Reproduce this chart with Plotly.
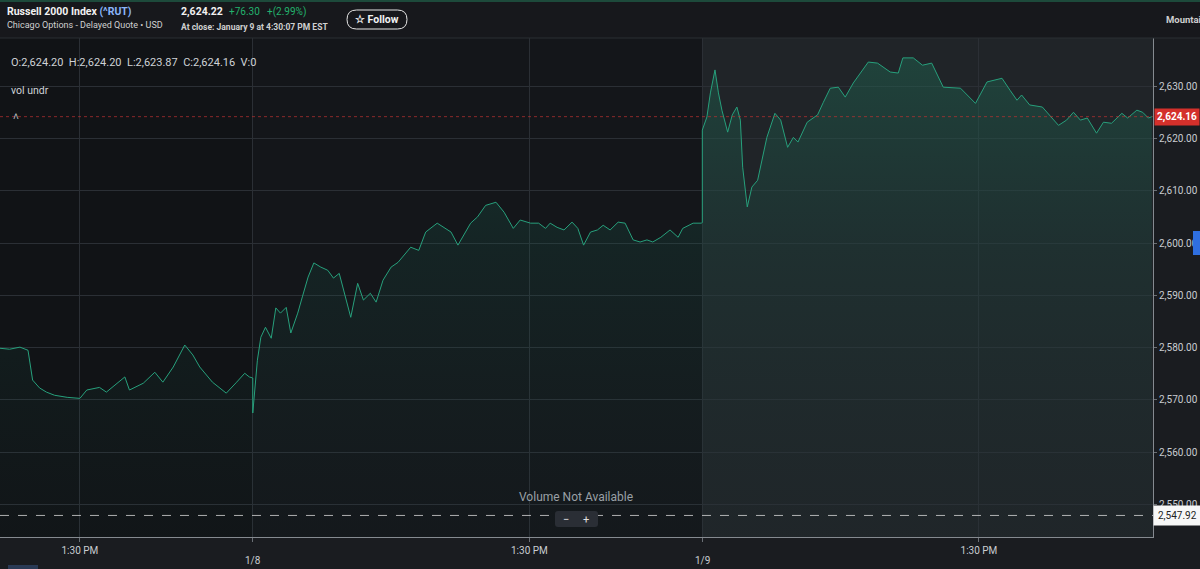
import plotly.graph_objects as go

# ---------------- data ----------------
day_names = ["1/7", "1/8", "1/9"]

d1_time = ["12:20","12:29","12:38","12:45","12:49","12:55","13:01","13:08","13:19","13:30",
           "13:36","13:47","13:53","14:05","14:09","14:13","14:25","14:35","14:42","14:51",
           "15:01","15:08","15:14","15:25","15:37","15:46","15:53","15:57","16:00"]
d1_vals = [2579.9,2579.7,2580.1,2579.5,2573.8,2572.3,2571.5,2570.9,2570.5,2570.3,
           2571.9,2572.4,2571.5,2573.8,2574.4,2571.9,2573.2,2575.3,2573.4,2576.3,
           2580.5,2578.6,2576.3,2573.4,2571.3,2573.4,2575.1,2574.4,2574.2]

d2_time = ["09:30","09:34","09:37","09:41","09:46","09:50","09:54","09:59","10:03","10:09",
           "10:13","10:18","10:23","10:29","10:35","10:40","10:45","10:49","10:55","11:01",
           "11:06","11:12","11:17","11:23","11:30","11:36","11:41","11:47","11:54","12:00",
           "12:10","12:17","12:22","12:28","12:32","12:39","12:45","12:52","13:01","13:08",
           "13:16","13:22","13:31","13:38","13:44","13:48","13:54","14:00","14:07","14:12",
           "14:17","14:23","14:29","14:34","14:40","14:47","14:53","15:00","15:06","15:12",
           "15:17","15:24","15:32","15:39","15:43","15:52","15:59","16:00"]
d2_vals = [2567.5,2577.6,2582.0,2583.9,2581.8,2587.6,2586.6,2587.7,2582.8,2586.6,
           2589.7,2593.5,2596.2,2595.4,2594.8,2593.3,2594.2,2591.0,2585.8,2592.3,
           2589.1,2590.4,2588.7,2592.9,2595.4,2596.3,2597.7,2599.2,2598.6,2602.1,
           2603.8,2602.8,2602.1,2599.6,2601.1,2603.8,2605.0,2607.2,2607.8,2605.9,
           2602.8,2604.4,2603.8,2603.8,2602.8,2603.8,2603.0,2602.5,2604.0,2602.8,
           2599.6,2602.1,2602.5,2603.4,2602.5,2604.0,2603.8,2600.6,2600.2,2600.6,
           2600.2,2601.1,2602.5,2601.1,2602.8,2603.8,2603.8,2603.9]

d3_time = ["09:30","09:34","09:37","09:41","09:44","09:47","09:52","09:56","10:00","10:03",
           "10:05","10:09","10:13","10:18","10:26","10:33","10:38","10:44","10:49","10:53",
           "11:01","11:10","11:15","11:21","11:28","11:34","11:41","11:47","11:54","12:02",
           "12:13","12:20","12:24","12:33","12:41","12:49","12:59","13:14","13:27","13:37",
           "13:50","13:57","14:03","14:07","14:14","14:25","14:29","14:39","14:46","14:52",
           "14:58","15:04","15:12","15:18","15:25","15:34","15:39","15:47","15:52","15:57",
           "16:00"]
d3_vals = [2621.6,2624.1,2628.7,2633.1,2628.7,2625.4,2621.2,2624.5,2626.0,2623.5,
           2614.5,2606.9,2610.7,2612.0,2620.2,2624.8,2623.5,2618.3,2620.2,2619.3,
           2623.1,2624.5,2626.9,2629.6,2629.8,2627.9,2630.6,2632.5,2634.6,2634.4,
           2632.7,2632.5,2635.4,2635.4,2634.0,2634.4,2629.8,2629.6,2626.7,2630.8,
           2631.5,2629.2,2627.3,2628.3,2626.4,2626.0,2625.0,2622.5,2623.5,2625.0,
           2623.5,2623.9,2621.0,2623.1,2622.9,2624.8,2623.9,2625.4,2625.0,2623.9,
           2624.16]

x_tick_day = [0, 1, 1, 2, 2]
x_tick_time = ["13:30", "09:30", "13:30", "09:30", "13:30"]
x_tick_text = ["1:30 PM", "", "1:30 PM", "", "1:30 PM"]
x_date_labels = ["", "1/8", "", "1/9", ""]

y_ticks = [2550, 2560, 2570, 2580, 2590, 2600, 2610, 2620, 2630]
y_tick_text = [f"{v:,.2f}" for v in y_ticks]

ohlcv = {"O": 2624.20, "H": 2624.20, "L": 2623.87, "C": 2624.16, "V": 0}
last_price = 2624.22
change = 76.30
change_pct = 2.99
prev_close = 2547.92
last_bar = 2624.16

# ---------------- helpers ----------------
SESSION = 390  # minutes per session


def tmin(day, hhmm):
    h, m = map(int, hhmm.split(":"))
    return day * SESSION + (h * 60 + m - 570)


xs, ys = [], []
for d, (tl, vl) in enumerate([(d1_time, d1_vals), (d2_time, d2_vals), (d3_time, d3_vals)]):
    for t, v in zip(tl, vl):
        xs.append(tmin(d, t))
        ys.append(v)

x_tick_vals = [tmin(d, t) for d, t in zip(x_tick_day, x_tick_time)]

X_RANGE = [170.7, 1171.0]
Y_RANGE = [2543.8, 2639.2]

# pixel -> paper (plot area: x 0..1153, y 38..537)
PW, PT, PB = 1153.0, 38.0, 537.0


def px(x):
    return x / PW


def py(y):
    return (PB - y) / (PB - PT)


FONT = "Roboto, 'Liberation Sans', sans-serif"
LINE_COL = "#27a07c"

fig = go.Figure()

fig.add_trace(go.Scatter(
    x=xs, y=ys, mode="lines",
    line=dict(color=LINE_COL, width=1),
    fill="tozeroy",
    fillgradient=dict(type="vertical", start=Y_RANGE[0], stop=2636,
                      colorscale=[[0, "rgba(25,70,65,0.05)"],
                                  [0.6, "rgba(25,110,90,0.16)"],
                                  [1, "rgba(30,140,105,0.30)"]]),
    hoverinfo="skip", showlegend=False,
))

shapes = []
# darker first session
shapes.append(dict(type="rect", xref="x", yref="paper", x0=X_RANGE[0], x1=x_tick_vals[1],
                   y0=0, y1=1, fillcolor="rgba(0,0,0,0.12)", line_width=0, layer="below"))
# lighter region for last session
shapes.append(dict(type="rect", xref="x", yref="paper", x0=x_tick_vals[3], x1=X_RANGE[1],
                   y0=0, y1=1, fillcolor="rgba(150,175,185,0.09)", line_width=0, layer="below"))
# last-bar red dotted line
shapes.append(dict(type="line", xref="paper", yref="y", x0=0, x1=1, y0=last_bar, y1=last_bar,
                   line=dict(color="rgba(190,50,50,0.7)", width=1, dash="dot")))
# previous close dashed line
shapes.append(dict(type="line", xref="paper", yref="y", x0=0, x1=1, y0=prev_close, y1=prev_close,
                   line=dict(color="rgba(225,225,225,0.75)", width=1, dash="dash")))
# header background
shapes.append(dict(type="rect", xref="paper", yref="paper", x0=px(0), x1=px(1200),
                   y0=py(38), y1=py(0), fillcolor="#17181c", line_width=0, layer="below"))
shapes.append(dict(type="rect", xref="paper", yref="paper", x0=px(0), x1=px(1200),
                   y0=py(2), y1=py(0), fillcolor="#1d4a3b", line_width=0))
shapes.append(dict(type="line", xref="paper", yref="paper", x0=px(0), x1=px(1200),
                   y0=py(38), y1=py(38), line=dict(color="#2b2e33", width=1)))


def pill(x0, x1, y0, y1, r):
    X0, X1 = px(x0), px(x1)
    rx = px(r)
    Ytop, Ybot = py(y0), py(y1)
    ry = r / (PB - PT)
    return (f"M{X0+rx},{Ytop} L{X1-rx},{Ytop} Q{X1},{Ytop} {X1},{Ytop-ry} "
            f"L{X1},{Ybot+ry} Q{X1},{Ybot} {X1-rx},{Ybot} L{X0+rx},{Ybot} "
            f"Q{X0},{Ybot} {X0},{Ybot+ry} L{X0},{Ytop-ry} Q{X0},{Ytop} {X0+rx},{Ytop} Z")


# Follow button
shapes.append(dict(type="path", xref="paper", yref="paper", path=pill(347, 407, 10, 29, 9.5),
                   line=dict(color="#e6e6e6", width=1), fillcolor="rgba(0,0,0,0)"))
# zoom control box
shapes.append(dict(type="path", xref="paper", yref="paper", path=pill(555, 598, 511, 527, 3),
                   line=dict(width=0), fillcolor="#2a2e35"))
# blue marker right edge
shapes.append(dict(type="rect", xref="paper", yref="paper", x0=px(1193), x1=px(1200),
                   y0=py(255), y1=py(231), fillcolor="#2f6fe0", line_width=0))
shapes.append(dict(type="rect", xref="paper", yref="paper", x0=px(8), x1=px(38),
                   y0=py(569), y1=py(565), fillcolor="#2a3a55", line_width=0))

ann = []


def text(x, y, s, size=11, color="#d6d6d6", anchor="left", bold=False, **kw):
    ann.append(dict(xref="paper", yref="paper", x=px(x), y=py(y), text=(f"<b>{s}</b>" if bold else s),
                    showarrow=False, xanchor=anchor, yanchor="middle",
                    font=dict(family=FONT, size=size, color=color), **kw))


text(5, 12, "Russell 2000 Index <span style='color:#8ab4f8'>(^RUT)</span>", size=10.5, color="#f2f2f2", bold=True)
text(5, 25, "Chicago Options - Delayed Quote \u2022 USD", size=9, color="#d0d0d0")
text(179, 12, f"{last_price:,.2f}", size=10.5, color="#f2f2f2", bold=True)
text(227, 12, f"+{change:.2f}", size=10, color="#23b26d")
text(265, 12, f"+({change_pct:.2f}%)", size=10, color="#23b26d")
text(179, 27, "At close: January 9 at 4:30:07 PM EST", size=8.5, color="#d0d0d0", bold=True)
text(377, 19.5, "\u2606 Follow", size=10.5, color="#f2f2f2", anchor="center", bold=True)
text(1164, 20, "Mountain", size=9.5, color="#cfcfcf", bold=True)

ohlc_txt = "&nbsp;&nbsp;".join(
    [f"O:{ohlcv['O']:,.2f}", f"H:{ohlcv['H']:,.2f}", f"L:{ohlcv['L']:,.2f}",
     f"C:{ohlcv['C']:,.2f}", f"V:{ohlcv['V']}"])
text(9, 62, ohlc_txt, size=11, color="#cfd2d6")
text(9, 90, "vol undr", size=10.5, color="#cfd2d6")
text(11, 116, "\u02c4", size=10, color="#bfc3c8")
text(576, 497, "Volume Not Available", size=12, color="#9aa0a6", anchor="center")
text(566, 519, "\u2212", size=11, color="#e0e0e0", anchor="center")
text(586, 519, "+", size=11, color="#e0e0e0", anchor="center")

# date labels under the axis
for xv, lab in zip(x_tick_vals, x_date_labels):
    if lab:
        ann.append(dict(xref="x", yref="paper", x=xv, y=0, yshift=-23, xanchor="center",
                        yanchor="middle", text=lab, showarrow=False,
                        font=dict(family=FONT, size=10, color="#c9ccd1")))

# price labels on axis
ann.append(dict(xref="paper", yref="y", x=1.0, y=last_bar, xanchor="left", yanchor="middle",
                text=f"<b>{last_bar:,.2f}</b>", showarrow=False, bgcolor="#d4302b",
                borderpad=2, xshift=1, font=dict(family=FONT, size=10, color="#ffffff")))
ann.append(dict(xref="paper", yref="y", x=1.0, y=prev_close, xanchor="left", yanchor="middle",
                text=f"{prev_close:,.2f}", showarrow=False, bgcolor="#f7f7f7",
                borderpad=4, xshift=0, font=dict(family=FONT, size=10, color="#222222")))

fig.update_layout(
    width=1200, height=569,
    margin=dict(l=0, r=47, t=38, b=32),
    paper_bgcolor="#1a1c20",
    plot_bgcolor="#14161a",
    shapes=shapes,
    annotations=ann,
    showlegend=False,
    xaxis=dict(range=X_RANGE, tickvals=x_tick_vals, ticktext=x_tick_text,
               showgrid=True, gridcolor="#2b2f35", gridwidth=1, zeroline=False,
               showline=True, linecolor="#858a90", linewidth=1,
               ticks="outside", ticklen=4, tickcolor="#6a6f75",
               tickfont=dict(family=FONT, size=10, color="#c9ccd1"), fixedrange=True),
    yaxis=dict(range=Y_RANGE, side="right", tickvals=y_ticks, ticktext=y_tick_text,
               showgrid=True, gridcolor="#2b2f35", gridwidth=1, zeroline=False,
               showline=True, linecolor="#858a90", linewidth=1,
               ticks="outside", ticklen=3, tickcolor="#6a6f75",
               tickfont=dict(family=FONT, size=10, color="#c9ccd1"), fixedrange=True),
)

fig.write_html("out.html", config={"displayModeBar": False},
               post_script="document.body.style.margin='0';document.body.style.overflow='hidden';")
